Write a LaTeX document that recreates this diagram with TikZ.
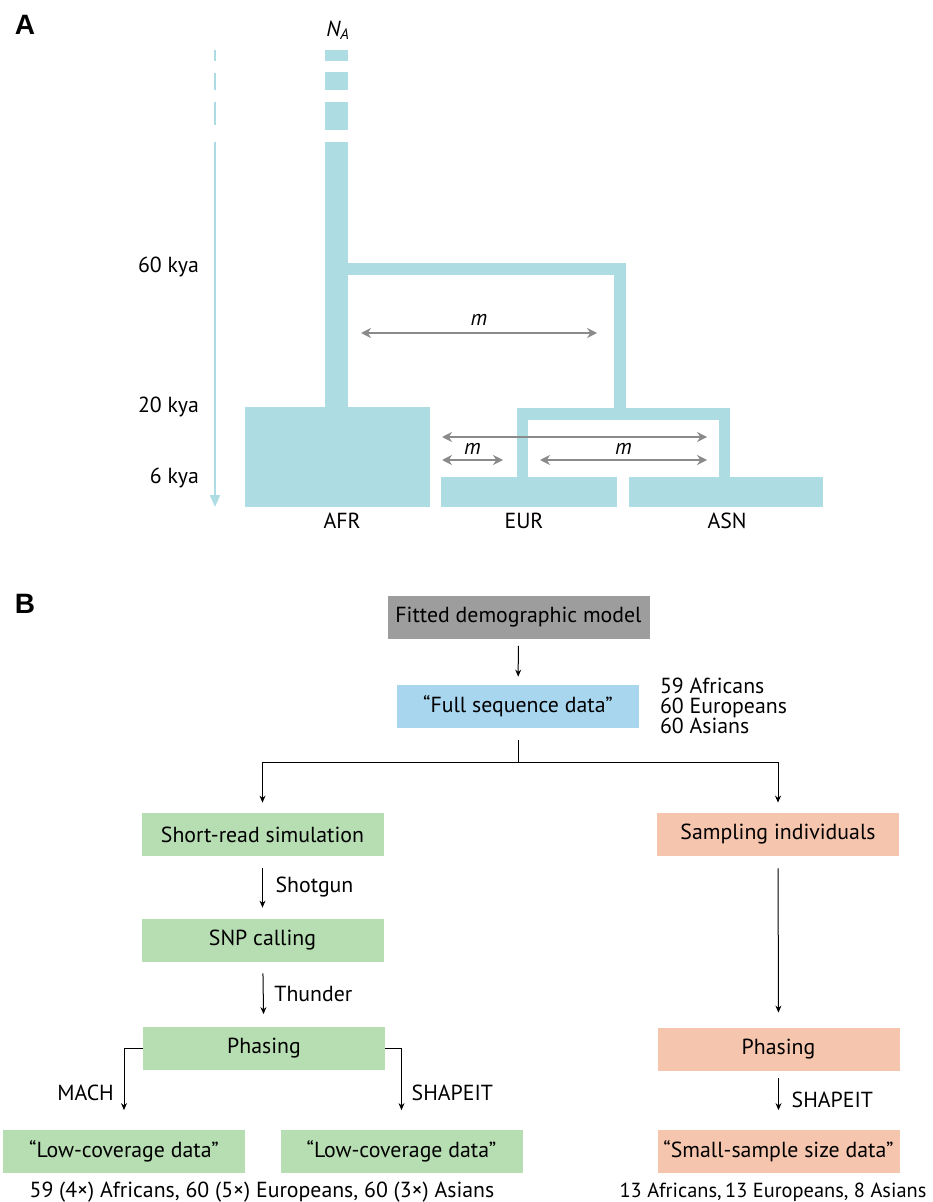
\documentclass[tikz,border=0pt]{standalone}
\usepackage{fontspec}
\setmainfont{PT Sans}
\newfontfamily\panelfont{Liberation Sans}
\usetikzlibrary{arrows.meta}

\definecolor{popblue}{HTML}{ADDCE3}
\definecolor{modelgray}{HTML}{9D9D9D}
\definecolor{fullblue}{HTML}{A9D6EF}
\definecolor{lcgreen}{HTML}{B7DDB2}
\definecolor{sssalmon}{HTML}{F6C5AE}
\definecolor{miggray}{HTML}{8A8A8A}

\tikzset{
  panel/.style={font=\panelfont\bfseries\fontsize{14}{16}\selectfont},
  stepbox/.style={minimum width=121pt,minimum height=21.5pt,inner sep=0pt},
  flow/.style={-{Stealth[length=3.5pt,width=3pt]},line width=0.5pt},
  mig/.style={{Stealth[length=5pt,width=5pt]}-{Stealth[length=5pt,width=5pt]},draw=miggray,line width=1.1pt},
  timeaxis/.style={popblue,line width=1pt}
}

\begin{document}
\begin{tikzpicture}[x=0.5pt,y=-0.5pt,font=\fontsize{10.9}{13}\selectfont]
\useasboundingbox (0,0) rectangle (932,1202);

% ---- A: demographic model
\begin{scope}
\node[panel] at (25,25) {A};
\node at (338,30) {\itshape N\textsubscript{A}};

% time axis
\foreach \a/\b in {50/61,73/90,102/125}
    \draw[timeaxis] (215,\a) -- (215,\b);
\draw[timeaxis,-{Triangle[length=6pt,width=5pt]}] (215,142) -- (215,507);
\node[anchor=east] at (206,267) {60 kya};
\node[anchor=east] at (206,407) {20 kya};
\node[anchor=east] at (206,478) {6 kya};

% ancestral population
\foreach \a/\b in {50/61,72/90,102/130}
    \fill[popblue] (325,\a) rectangle (348,\b);
\fill[popblue] (325,142) rectangle (348,408);

% out of Africa
\fill[popblue] (348,263) rectangle (626,275);
\fill[popblue] (614,275) rectangle (626,409);

% EUR/ASN split
\fill[popblue] (517,408) rectangle (730,420);
\fill[popblue] (517,420) rectangle (528,478);
\fill[popblue] (719,420) rectangle (730,478);

\fill[popblue] (245,407) rectangle (430,507);
\fill[popblue] (441,477) rectangle (617,507);
\fill[popblue] (629,477) rectangle (823,507);
\node at (342,521) {AFR};
\node at (524,521) {EUR};
\node at (727,521) {ASN};

% migration
\draw[mig] (361,333) -- node[above] {\itshape m} (597,333);
\draw[mig] (442,437) -- (707,437);
\draw[mig] (442,460) -- node[above=-1pt] {\itshape m} (503,460);
\draw[mig] (540,460) -- node[above=-1pt] {\itshape m} (707,460);
\end{scope}

% ---- B: simulation pipeline
\begin{scope}
\node[panel] at (25,604) {B};

\node[stepbox,fill=modelgray,minimum width=131pt] (model) at (518.5,617) {Fitted demographic model};
\node[stepbox,fill=fullblue] (full) at (518,706.5) {“Full sequence data”};
\node[anchor=west,align=left,font=\fontsize{10.9}{10}\selectfont] (fullcount) at (653,706)
    {59 Africans\\60 Europeans\\60 Asians};
\draw[flow,shorten <=3.5pt,shorten >=4pt] (model) -- (full);

% low-coverage branch
\node[stepbox,fill=lcgreen] (shortread) at (262.5,834.5) {Short-read simulation};
\node[stepbox,fill=lcgreen] (snpcall) at (262.5,940.5) {SNP calling};
\node[stepbox,fill=lcgreen] (phaseL) at (264,1048) {Phasing};
\node[stepbox,fill=lcgreen] (lowcovA) at (124,1151) {“Low-coverage data”};
\node[stepbox,fill=lcgreen] (lowcovB) at (401.5,1151) {“Low-coverage data”};
\node (lowcovcount) at (262,1192) {59 (4×) Africans, 60 (5×) Europeans, 60 (3×) Asians};

% small-sample branch
\node[stepbox,fill=sssalmon] (sampling) at (778,834.5) {Sampling individuals};
\node[stepbox,fill=sssalmon] (phaseR) at (778.5,1049.5) {Phasing};
\node[stepbox,fill=sssalmon] (smallss) at (778.5,1151) {“Small-sample size data”};
\node[font=\fontsize{10.2}{12}\selectfont] (smallcount) at (773,1192) {13 Africans,\,13 Europeans, 8 Asians};

\coordinate (split) at (518,762);
\draw[line width=0.5pt] ([yshift=-6pt]full.south) -- (split);
\draw[flow] (split) -| ([yshift=5pt]shortread.north);
\draw[flow] (split) -| ([yshift=5pt]sampling.north);

\draw[flow,shorten <=6pt,shorten >=5.5pt] (shortread) -- node[right=3pt] {Shotgun} (snpcall);
\draw[flow,shorten <=5.5pt,shorten >=6pt] (snpcall) -- node[right=2pt] {Thunder} (phaseL);
\draw[flow] (phaseL.west) -| node[pos=0.86,left=1.5pt] {MACH} ([yshift=9.5pt]lowcovA.north);
\draw[flow] (phaseL.east) -| node[pos=0.86,right=1.5pt] {SHAPEIT} ([yshift=9.5pt]lowcovB.north);

\draw[flow,shorten <=6pt,shorten >=7.5pt] (sampling) -- (phaseR);
\draw[flow,shorten <=3.5pt,shorten >=9.5pt] (phaseR) -- node[right=3pt] {SHAPEIT} (smallss);
\end{scope}
\end{tikzpicture}
\end{document}
